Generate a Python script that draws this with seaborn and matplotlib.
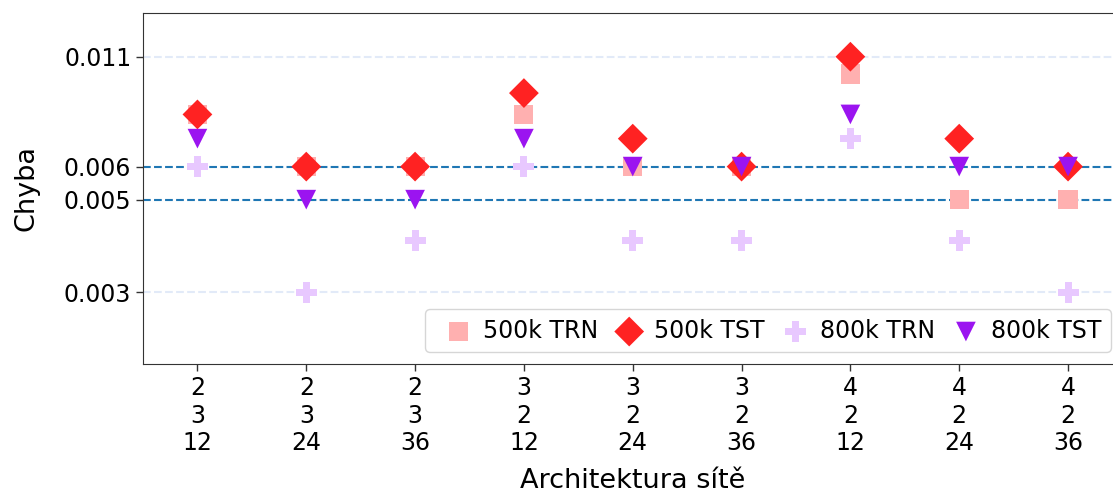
import matplotlib
matplotlib.use("Agg")
import matplotlib.pyplot as plt
import seaborn as sns
import pandas as pd
from matplotlib.ticker import FixedLocator, NullLocator

architectures = ["2\n3\n12", "2\n3\n24", "2\n3\n36", "3\n2\n12", "3\n2\n24",
                 "3\n2\n36", "4\n2\n12", "4\n2\n24", "4\n2\n36"]
trn_500k = [0.008, 0.006, 0.006, 0.008, 0.006, 0.006, 0.010, 0.005, 0.005]
tst_500k = [0.008, 0.006, 0.006, 0.009, 0.007, 0.006, 0.011, 0.007, 0.006]
trn_800k = [0.006, 0.003, 0.004, 0.006, 0.004, 0.004, 0.007, 0.004, 0.003]
tst_800k = [0.007, 0.005, 0.005, 0.007, 0.006, 0.006, 0.008, 0.006, 0.006]
series_names = ["500k TRN", "500k TST", "800k TRN", "800k TST"]
y_ticks = [0.003, 0.005, 0.006, 0.011]
ref_lines = [0.006, 0.005]

sns.set_style("white")
plt.rcParams["font.family"] = ["DejaVu Sans"]
plt.rcParams["text.color"] = "black"
plt.rcParams["axes.labelcolor"] = "black"
plt.rcParams["xtick.color"] = "black"
plt.rcParams["ytick.color"] = "black"

fig = plt.figure(figsize=(11.13, 4.93), dpi=100)
ax = fig.add_axes([0.1285, 0.2617, 0.88, 0.712])

styles = [("s", "#ffb0b0", 190), ("D", "#ff2222", 230), ("P", "#e8c8ff", 230), ("v", "#9b14f0", 200)]
for name, vals, (mk, col, s) in zip(series_names, [trn_500k, tst_500k, trn_800k, tst_800k], styles):
    df = pd.DataFrame({"arch": list(range(len(architectures))), "err": vals})
    sns.scatterplot(data=df, x="arch", y="err", marker=mk, color=col, s=s,
                    edgecolor="none", linewidth=0, label=name, ax=ax, zorder=3)

ax.set_yscale("log")
ax.set_ylim(0.00202, 0.0140)
ax.set_xlim(-0.5, 8.5)
ax.yaxis.set_major_locator(FixedLocator(y_ticks))
ax.yaxis.set_minor_locator(NullLocator())
ax.set_yticklabels([f"{v:.3f}" for v in y_ticks])
ax.set_xticks(range(len(architectures)))
ax.set_xticklabels(architectures)
ax.yaxis.grid(True, linestyle="--", color="#e2eaf8", linewidth=1.5)
for v in ref_lines:
    ax.axhline(v, color="#1f77b4", linestyle="--", linewidth=1.5, zorder=2)

ax.tick_params(axis="both", labelsize=17, length=5, width=1, left=True, bottom=True,
               colors="black")
ax.tick_params(axis="both", color="#333333")
ax.set_xlabel("Architektura sítě", fontsize=19.5, labelpad=9)
ax.set_ylabel("Chyba", fontsize=19.5, labelpad=17)
for sp in ax.spines.values():
    sp.set_color("#333333")

ax.legend(loc="lower right", ncol=4, fontsize=17, handletextpad=0.05, handlelength=2.0,
          columnspacing=0.3, borderpad=0.4, frameon=True)

fig.savefig("out.png", dpi=100)
